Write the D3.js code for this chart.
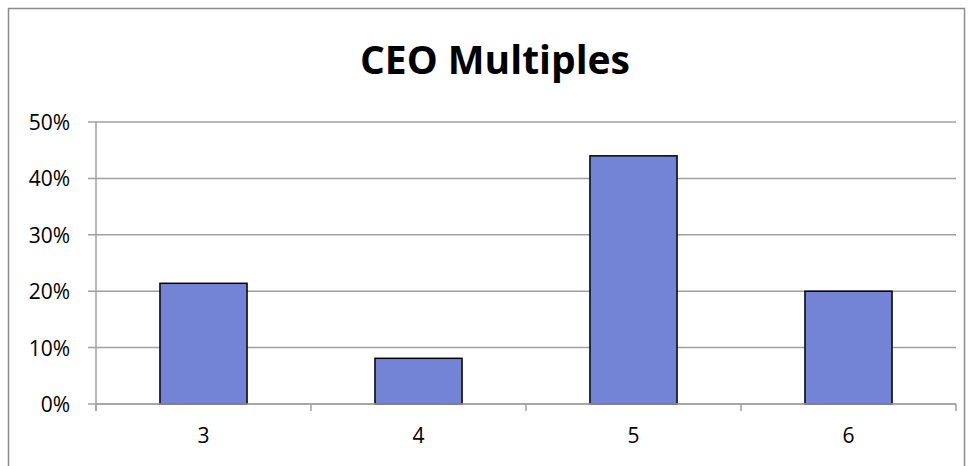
<!DOCTYPE html>
<html><head><meta charset="utf-8">
<script src="https://cdn.jsdelivr.net/npm/d3@7"></script>
<style>body{margin:0;background:#fff}svg{display:block}</style>
</head><body>
<script>
const title = "CEO Multiples";
const categories = ["3","4","5","6"];
const values = [0.214, 0.081, 0.440, 0.200];
const yTicks = [0, 0.1, 0.2, 0.3, 0.4, 0.5];

(function () {
const W = 973, H = 466;
const font = "'Open Sans', 'Liberation Sans', sans-serif";
const svg = d3.select("body").append("svg").attr("width", W).attr("height", H);

svg.append("rect").attr("x", 8.5).attr("y", 8.5).attr("width", 956).attr("height", 470)
  .attr("fill", "#fff").attr("stroke", "#8c8c8c").attr("stroke-width", 1.5);

svg.append("text").attr("x", 495).attr("y", 74).attr("text-anchor", "middle")
  .attr("font-family", font).attr("font-weight", "bold").attr("font-size", 39)
  .attr("fill", "#000").text(title);

const mL = 96, mR = 956, mT = 122, mB = 404;
const x = d3.scaleBand().domain(categories).range([mL, mR]).padding(0);
const y = d3.scaleLinear().domain([0, 0.5]).range([mB, mT]);

// gridlines
svg.append("g").selectAll("line").data(yTicks).join("line")
  .attr("x1", mL - 8).attr("x2", mR).attr("y1", d => y(d)).attr("y2", d => y(d))
  .attr("stroke", "#a0a0a0").attr("stroke-width", 1.5);

// y axis
const yAxis = d3.axisLeft(y).tickValues(yTicks).tickFormat(d3.format(".0%")).tickSize(0).tickPadding(26);
const gy = svg.append("g").attr("transform", `translate(${mL},0)`).call(yAxis);
gy.select(".domain").remove();
gy.selectAll("text").attr("font-family", font).attr("font-size", 21).attr("fill", "#000").attr("dy", "0.36em");
svg.append("line").attr("x1", mL).attr("x2", mL).attr("y1", mT).attr("y2", mB + 7)
  .attr("stroke", "#a0a0a0").attr("stroke-width", 1.5);

// x axis
const xAxis = d3.axisBottom(x).tickSize(0).tickPadding(24);
const gx = svg.append("g").attr("transform", `translate(0,${mB})`).call(xAxis);
gx.select(".domain").remove();
gx.selectAll("text").attr("font-family", font).attr("font-size", 21).attr("fill", "#000");
const edges = categories.map(c => x(c)).concat([x(categories[categories.length-1]) + x.bandwidth()]);
svg.append("g").selectAll("line").data(edges).join("line")
  .attr("x1", d => d).attr("x2", d => d).attr("y1", mB).attr("y2", mB + 7)
  .attr("stroke", "#a0a0a0").attr("stroke-width", 1.5);

// bars
const bw = x.bandwidth() * 0.405;
svg.append("g").selectAll("rect").data(values).join("rect")
  .attr("x", (d, i) => x(categories[i]) + (x.bandwidth() - bw) / 2)
  .attr("y", d => y(d)).attr("width", bw).attr("height", d => mB - y(d))
  .attr("fill", "#7384d6").attr("stroke", "#000").attr("stroke-width", 1.5);

svg.append("line").attr("x1", mL).attr("x2", mR).attr("y1", mB).attr("y2", mB)
  .attr("stroke", "#a0a0a0").attr("stroke-width", 1.5);
})();
</script>
</body></html>
